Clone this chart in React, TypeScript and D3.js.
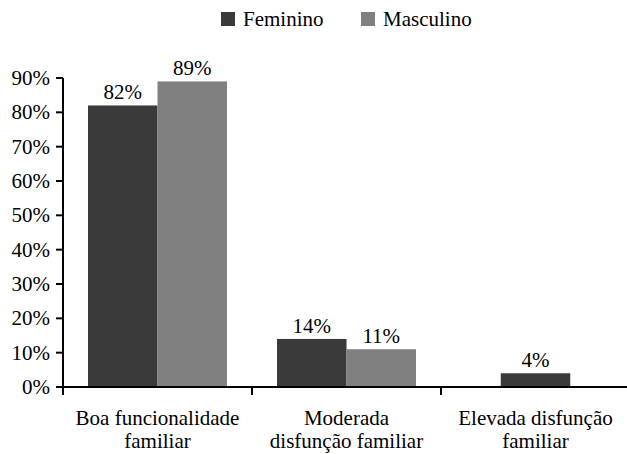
import React from "react";
import * as d3 from "d3";

const categories = [["Boa funcionalidade", "familiar"], ["Moderada", "disfunção familiar"], ["Elevada disfunção", "familiar"]];
const seriesNames = ["Feminino", "Masculino"];
const feminino: (number | null)[] = [82, 14, 4];
const masculino: (number | null)[] = [89, 11, null];
const yTicks = [0, 10, 20, 30, 40, 50, 60, 70, 80, 90];
const colors = ["#3a3a3a", "#808080"];

export default function App() {
  const W = 627, H = 454;
  const left = 63, right = 630, top = 78, bottom = 387;
  const y = d3.scaleLinear().domain([0, 90]).range([bottom, top]);
  const x0 = d3.scaleBand<number>().domain(categories.map((_, i) => i)).range([left, right]).padding(0);
  const series = [feminino, masculino];
  const barW = 69.5;
  const ts: React.CSSProperties = { fontFamily: "'Liberation Serif', Tinos, 'Times New Roman', serif", fontSize: "21px" };

  return (
    <svg width={W} height={H} fontFamily="Liberation Serif" style={{ position: "absolute", left: 0, top: 0 }}>
      {/* legend */}
      {seriesNames.map((s, i) => {
        const lx = i === 0 ? 221 : 361;
        return (
          <g key={s}>
            <rect x={lx} y={12} width={14} height={14} fill={colors[i]} />
            <text x={lx + 22} y={26} style={ts}>{s}</text>
          </g>
        );
      })}
      {/* bars */}
      {categories.map((_, ci) => {
        const present = series.map((s, si) => ({ v: s[ci], si })).filter((d) => d.v != null);
        const bw = x0.bandwidth();
        const inner = d3.scaleBand<number>().domain(present.map((d) => d.si)).range([0, bw]).paddingInner(0).paddingOuter((bw - barW * present.length) / (2 * barW));
        return present.map((d) => {
          const bx = x0(ci)! + inner(d.si)!;
          const by = y(d.v as number);
          return (
            <g key={ci + "-" + d.si}>
              <rect x={bx} y={by} width={inner.bandwidth()} height={bottom - by} fill={colors[d.si]} />
              <text x={bx + inner.bandwidth() / 2} y={by - 6} textAnchor="middle" style={ts}>{d.v}%</text>
            </g>
          );
        });
      })}
      {/* y axis */}
      <line x1={left} x2={left} y1={top} y2={bottom + 8} stroke="#000" strokeWidth={2} />
      {yTicks.map((t) => (
        <g key={t}>
          <line x1={left - 7} x2={left} y1={y(t)} y2={y(t)} stroke="#000" strokeWidth={2} />
          <text x={left - 13} y={y(t) + 7} textAnchor="end" style={ts}>{t}%</text>
        </g>
      ))}
      {/* x axis */}
      <line x1={left - 7} x2={W} y1={bottom} y2={bottom} stroke="#000" strokeWidth={2} />
      {categories.map((c, ci) => (
        <g key={ci}>
          <line x1={x0(ci)!} x2={x0(ci)!} y1={bottom} y2={bottom + 8} stroke="#000" strokeWidth={2} />
          {c.map((ln, li) => (
            <text key={li} x={x0(ci)! + x0.bandwidth() / 2} y={425 + li * 23} textAnchor="middle" style={ts}>{ln}</text>
          ))}
        </g>
      ))}
    </svg>
  );
}
